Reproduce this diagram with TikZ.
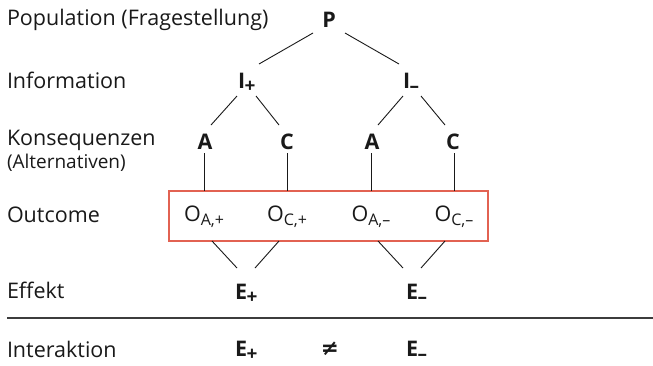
\documentclass[tikz,border=0pt]{standalone}
\usepackage{fontspec}
\setmainfont{Open Sans}
\newfontfamily\symfont{DejaVu Sans}
\definecolor{boxred}{RGB}{226,98,82}
\definecolor{ink}{RGB}{25,25,25}
\newcommand{\sbsc}[1]{\raisebox{-0.35ex}{\fontsize{16}{18}\selectfont #1}}
\newcommand{\ksub}[1]{\kern-0.5pt\raisebox{-0.4ex}{\fontsize{19}{20}\selectfont #1}}
\begin{document}
\begin{tikzpicture}[x=1pt,y=-1pt,
  every node/.style={inner sep=0pt,outer sep=0pt,text=ink},
  lbl/.style={anchor=west,font=\fontsize{21.5}{24}\selectfont},
  small/.style={anchor=west,font=\fontsize{19}{22}\selectfont},
  key/.style={font=\fontsize{21.5}{24}\selectfont\bfseries},
  otxt/.style={font=\fontsize{21.5}{24}\selectfont},
  conn/.style={draw=ink,line width=0.9pt},
  rule/.style={draw=ink!85,line width=1.4pt},
  obox/.style={draw=boxred,line width=2.2pt}]
\useasboundingbox (0,0) rectangle (653,365);
% left labels
\node[lbl] (lP) at (7,20) {Population (Fragestellung)};
\node[lbl] (lI) at (7,80) {Information};
\node[lbl] (lK) at (7,140) {Konsequenzen};
\node[small] (lA) at (7,163) {(Alternativen)};
\node[lbl] (lO) at (7,215) {Outcome};
\node[lbl] (lE) at (7,290) {Effekt};
\node[lbl] (lX) at (7,349) {Interaktion};
% layout coordinates
\coordinate (cP) at (329,20);
\coordinate (cIp) at (245,80);
\coordinate (cIm) at (410,80);
\coordinate (cA1) at (205,142);
\coordinate (cC1) at (287,142);
\coordinate (cA2) at (372,142);
\coordinate (cC2) at (453,142);
\coordinate (cEp) at (245,291);
\coordinate (cEm) at (414,291);
% tree nodes
\node[key] (P) at (cP) {P};
\node[key,anchor=base west] (Ip) at (238,88) {I\ksub{+}};
\node[key,anchor=base west] (Im) at (403,88) {I\ksub{–}};
\node[key] (A1) at (cA1) {A};
\node[key] (C1) at (cC1) {C};
\node[key] (A2) at (cA2) {A};
\node[key] (C2) at (cC2) {C};
% outcome box
\node[obox,minimum width=319pt,minimum height=50pt,anchor=north west] (box) at (169,191) {};
\node[otxt] (O1) at (204,217) {O\sbsc{A,+}};
\node[otxt] (O2) at (287,217) {O\sbsc{C,+}};
\node[otxt] (O3) at (371,217) {O\sbsc{A,–}};
\node[otxt] (O4) at (454,217) {O\sbsc{C,–}};
% effects
\node[key,anchor=base west] (Ep) at (235,299) {E\ksub{+}};
\node[key,anchor=base west] (Em) at (406,299) {E\ksub{–}};
\node[key,anchor=base west] (Xp) at (235,356) {E\ksub{+}};
\node[key] (neq) at (330,349) {\symfont\bfseries ≠};
\node[key,anchor=base west] (Xm) at (406,356) {E\ksub{–}};
% connectors
\draw[conn] ([shift={(-16,13)}]cP) -- ([shift={(14,-16)}]cIp);
\draw[conn] ([shift={(16,13)}]cP) -- ([shift={(-11,-16)}]cIm);
\draw[conn] ([shift={(-8,16)}]cIp) -- ([shift={(6,-17)}]cA1);
\draw[conn] ([shift={(11,16)}]cIp) -- ([shift={(-8,-17)}]cC1);
\draw[conn] ([shift={(-7,16)}]cIm) -- ([shift={(6,-17)}]cA2);
\draw[conn] ([shift={(11,16)}]cIm) -- ([shift={(-8,-17)}]cC2);
\draw[conn] ([shift={(-1,11)}]cA1) -- (box.north west -| O1);
\draw[conn] ([shift={(0,11)}]cC1) -- (box.north west -| O2);
\draw[conn] ([shift={(-1,11)}]cA2) -- (box.north west -| O3);
\draw[conn] ([shift={(1,11)}]cC2) -- (box.north west -| O4);
\draw[conn] ([xshift=43pt]box.south west) -- ([shift={(-8,-23)}]cEp);
\draw[conn] ([xshift=110pt]box.south west) -- ([shift={(10,-23)}]cEp);
\draw[conn] ([xshift=209pt]box.south west) -- ([shift={(-11,-23)}]cEm);
\draw[conn] ([xshift=276pt]box.south west) -- ([shift={(7,-23)}]cEm);
\coordinate (r0) at (7,318);
\coordinate (r1) at (653,318);
\draw[rule] (r0) -- (r1);
\end{tikzpicture}
\end{document}
